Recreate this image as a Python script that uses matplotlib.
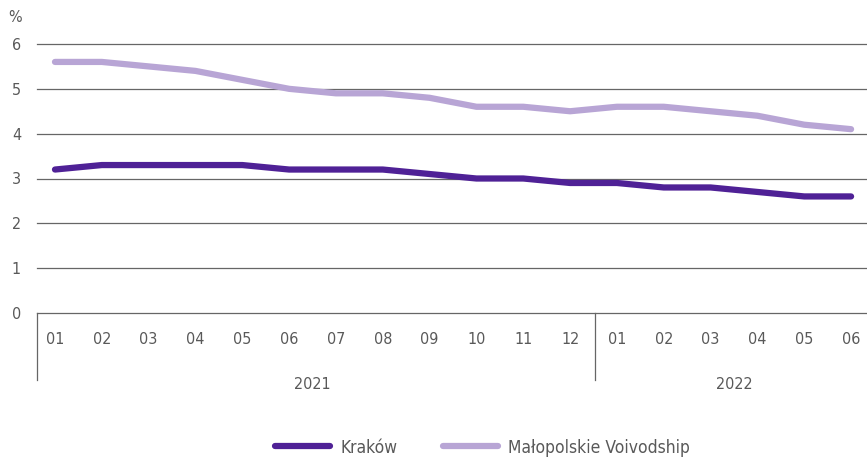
import matplotlib
matplotlib.use("Agg")
import matplotlib.pyplot as plt

months = ["01", "02", "03", "04", "05", "06", "07", "08", "09", "10", "11", "12",
          "01", "02", "03", "04", "05", "06"]
years = ["2021", "2022"]
year_lengths = [12, 6]
krakow = [3.2, 3.3, 3.3, 3.3, 3.3, 3.2, 3.2, 3.2, 3.1, 3.0, 3.0, 2.9,
          2.9, 2.8, 2.8, 2.7, 2.6, 2.6]
malopolskie = [5.6, 5.6, 5.5, 5.4, 5.2, 5.0, 4.9, 4.9, 4.8, 4.6, 4.6, 4.5,
               4.6, 4.6, 4.5, 4.4, 4.2, 4.1]
y_ticks = [0, 1, 2, 3, 4, 5, 6]

plt.rcParams['font.family'] = ['DejaVu Sans']
plt.rcParams['font.stretch'] = 'condensed'
text_color = "#595959"
fs = 11.5

fig = plt.figure(figsize=(8.67, 4.58), dpi=100)
ax = fig.add_axes([37 / 867, 1 - 313 / 458, 830 / 867, 269 / 458])

x = list(range(len(months)))
ax.plot(x, krakow, color="#4F2196", lw=4.5, solid_capstyle="round",
        solid_joinstyle="round", label="Kraków", zorder=3)
ax.plot(x, malopolskie, color="#B8A5D5", lw=4.5, solid_capstyle="round",
        solid_joinstyle="round", label="Małopolskie Voivodship", zorder=3)

ax.set_xlim(-0.384, 17.34)
ax.set_ylim(0, 6)
ax.set_yticks(y_ticks)
ax.set_yticklabels([str(v) for v in y_ticks])
for v in y_ticks:
    ax.axhline(v, color="#666666", lw=0.9, zorder=1, clip_on=False)

for s in ax.spines.values():
    s.set_visible(False)
ax.tick_params(axis="y", length=0, pad=11.5, labelsize=fs, labelcolor=text_color)
ax.set_xticks(x)
ax.set_xticklabels(months)
ax.tick_params(axis="x", length=0, pad=14, labelsize=fs, labelcolor=text_color)

# year groups below the month labels
trans = ax.get_xaxis_transform()
ax.plot([-0.384, -0.384], [0, -0.25], transform=trans, color="#666666",
        lw=0.9, clip_on=False)
start = 0
for yr, n in zip(years, year_lengths):
    if start > 0:
        ax.plot([start - 0.47, start - 0.47], [0, -0.25], transform=trans,
                color="#666666", lw=0.9, clip_on=False)
    ax.text(start + (n - 1) / 2, -0.265, yr, transform=trans, ha="center",
            va="center", fontsize=fs, color=text_color)
    start += n

ax.text(-0.0265, 1.1, "%", transform=ax.transAxes, ha="center", va="center",
        fontsize=fs, color=text_color)

fig.legend(loc="lower center", bbox_to_anchor=(0.5565, -0.031), ncol=2,
           frameon=False, fontsize=12.5, handlelength=3.17, columnspacing=2.65,
           handletextpad=0.57, labelcolor=text_color)

fig.savefig("out.png", dpi=100)
